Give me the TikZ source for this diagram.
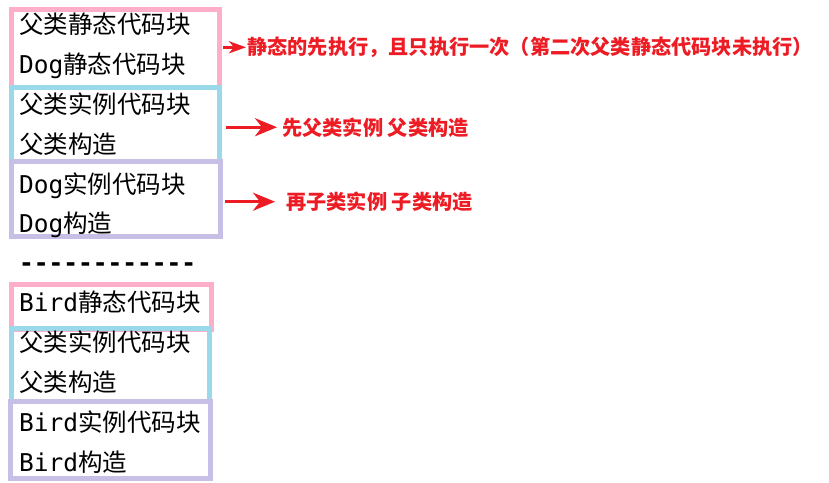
\documentclass[tikz,border=0pt]{standalone}
\usepackage{fontspec}
\setmainfont{DejaVu Sans Mono}
\newfontfamily\cjk{Noto Sans CJK SC}
\newfontfamily\latmono{DejaVu Sans Mono}
\usetikzlibrary{arrows.meta,positioning}
\definecolor{boxPink}{RGB}{255,174,201}
\definecolor{boxCyan}{RGB}{153,217,234}
\definecolor{boxPurple}{RGB}{200,191,231}
\definecolor{noteRed}{RGB}{237,28,36}
\newcommand{\lat}[1]{{\latmono #1}}
\tikzset{
  log line/.style={anchor=base west,inner sep=0pt,font=\fontsize{24.5}{30}\selectfont\cjk},
  note text/.style={anchor=base west,inner sep=0pt,text=noteRed,font=\fontsize{20.2}{24}\selectfont\cjk\bfseries},
  frame pink/.style={draw=boxPink,line width=5pt},
  frame cyan/.style={draw=boxCyan,line width=5pt},
  frame purple/.style={draw=boxPurple,line width=5pt},
  note arrow/.style={-{Stealth[length=22pt,width=18pt,inset=7pt]},line width=3pt,draw=noteRed},
  note arrow small/.style={-{Stealth[length=17pt,width=12pt,inset=5pt]},line width=3pt,draw=noteRed}
}
\begin{document}
\begin{tikzpicture}[x=1pt,y=-1pt]
  \useasboundingbox[fill=white] (0,0) rectangle (829,482);
  % first run: Dog
  \draw[frame pink] (11.5,9.5) rectangle (219.5,87);
  \draw[frame cyan] (11.5,87) rectangle (219.5,161);
  \draw[frame purple] (11.5,161) rectangle (220,236.5);
  \node[log line] (l1) at (19,33) {父类静态代码块};
  \node[log line] (l2) at (19,73) {\lat{Dog}静态代码块};
  \node[log line] (l3) at (19,113) {父类实例代码块};
  \node[log line] (l4) at (19,153) {父类构造};
  \node[log line] (l5) at (19,193) {\lat{Dog}实例代码块};
  \node[log line] (l6) at (19,232) {\lat{Dog}构造};
  \node[log line,font=\fontsize{24.5}{30}\selectfont\latmono\bfseries] (sep) at (19,271) {------------};
  % second run: Bird
  \draw[frame pink] (11.5,284.2) rectangle (211,329);
  \draw[frame cyan] (11,328.5) rectangle (209.5,401.5);
  \draw[frame purple] (10,401.5) rectangle (210,478);
  \node[log line] (l7) at (19,311) {\lat{Bird}静态代码块};
  \node[log line] (l8) at (19,351) {父类实例代码块};
  \node[log line] (l9) at (19,391) {父类构造};
  \node[log line] (l10) at (19,431) {\lat{Bird}实例代码块};
  \node[log line] (l11) at (19,471) {\lat{Bird}构造};
  % notes
  \node[note text] (n1) at (247,54.5) {静态的先执行，且只执行一次（第二次父类静态代码块未执行）};
  \node[note text] (n2) at (282,135) {先父类实例 父类构造};
  \node[note text] (n3) at (286,209.5) {再子类实例 子类构造};
  \coordinate[left=24pt of n1] (a1);
  \coordinate[left=56pt of n2] (a2);
  \coordinate[left=61pt of n3] (a3);
  \draw[note arrow small,shorten >=1pt] (a1) -- (n1);
  \draw[note arrow,shorten >=5pt] (a2) -- (n2);
  \draw[note arrow,shorten >=11pt] (a3) -- (n3);
\end{tikzpicture}
\end{document}
